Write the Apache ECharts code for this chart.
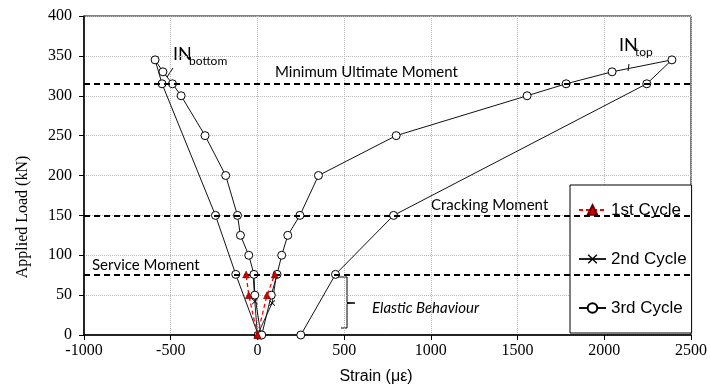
<!DOCTYPE html>
<html><head><meta charset="utf-8">
<script src="https://cdn.jsdelivr.net/npm/echarts@6/dist/echarts.min.js"></script>
<style>html,body{margin:0;padding:0;background:#fff}#c{width:710px;height:389px}</style>
</head><body><div id="c"></div>
<script>
// axis settings
const xMin = -1000, xMax = 2500, xInterval = 500;
const yMin = 0, yMax = 400, yInterval = 50;
const xTitle = 'Strain (\u03bc\u03b5)';
const yTitle = 'Applied Load (kN)';
const legendNames = ['1st Cycle', '2nd Cycle', '3rd Cycle'];

// [strain, load]
const cycle1Bottom = [[0, 0], [-50, 50], [-65, 76]];
const cycle1Top = [[0, 0], [55, 50], [100, 76]];
const cycle2Bottom = [[0, 0], [-15, 42], [-25, 76]];
const cycle2Top = [[0, 0], [85, 40], [110, 76]];
const cycle3Bottom = [[20, 0], [-15, 50], [-20, 76], [-50, 100], [-98, 125], [-115, 150], [-183, 200], [-302, 250], [-440, 300], [-490, 315], [-545, 330], [-590, 345], [-550, 315], [-242, 150], [-125, 76], [5, 0]];
const cycle3Top = [[25, 0], [80, 50], [113, 76], [140, 100], [175, 125], [245, 150], [352, 200], [800, 250], [1555, 300], [1780, 315], [2045, 330], [2390, 345], [2245, 315], [785, 150], [450, 76], [250, 0]];

// reference levels
const momentLevels = [315, 150, 76];
const momentLabels = ['Minimum Ultimate Moment', 'Cracking Moment', 'Service Moment'];

const chart = echarts.init(document.getElementById('c'), null, {renderer: 'canvas'});

const xShape = 'path://M0,1L1,0L5,4L9,0L10,1L6,5L10,9L9,10L5,6L1,10L0,9L4,5Z';
const serifFont = 'Liberation Serif';
const sansFont = 'Liberation Sans';

function s1(data) {
  return {
    name: legendNames[0], type: 'line', data: data, z: 5,
    symbol: 'triangle', symbolSize: 7,
    itemStyle: {color: '#d00000', borderColor: '#600', borderWidth: 0.5},
    lineStyle: {color: '#ff0000', width: 1.3, type: [4, 3]}
  };
}
function s2(data) {
  return {
    name: legendNames[1], type: 'line', data: data, z: 3,
    symbol: xShape, symbolSize: 6,
    itemStyle: {color: '#000'},
    lineStyle: {color: '#222', width: 1}
  };
}
function s3(data) {
  return {
    name: legendNames[2], type: 'line', data: data, z: 4,
    symbol: 'circle', symbolSize: 8,
    itemStyle: {color: '#fff', borderColor: '#000', borderWidth: 1},
    lineStyle: {color: '#111', width: 1}
  };
}

const series = [s2(cycle2Bottom), s2(cycle2Top), s3(cycle3Bottom), s3(cycle3Top), s1(cycle1Bottom), s1(cycle1Top)];
series[0].markLine = {
  silent: true, symbol: ['none', 'none'], animation: false,
  label: {show: false},
  lineStyle: {color: '#000', width: 1.8, type: [6, 4]},
  data: momentLevels.map(v => ({yAxis: v}))
};

chart.setOption({
  animation: false,
  backgroundColor: '#fff',
  grid: {left: 84, right: 18, top: 16, bottom: 54, show: true, borderColor: '#000', borderWidth: 1, backgroundColor: 'transparent'},
  xAxis: {
    type: 'value', min: xMin, max: xMax, interval: xInterval,
    axisLine: {show: true, onZero: false, lineStyle: {color: '#000', width: 1.5}},
    axisTick: {show: true, inside: false, length: 5, lineStyle: {color: '#000'}},
    axisLabel: {color: '#000', fontFamily: serifFont, fontSize: 16, margin: 8, formatter: v => String(v)},
    splitLine: {show: true, lineStyle: {color: '#b8b8b8', type: 'dotted', width: 1}}
  },
  yAxis: {
    type: 'value', min: yMin, max: yMax, interval: yInterval,
    axisLine: {show: true, onZero: false, lineStyle: {color: '#000', width: 1.5}},
    axisTick: {show: true, inside: false, length: 5, lineStyle: {color: '#000'}},
    axisLabel: {color: '#000', fontFamily: serifFont, fontSize: 16, margin: 12, formatter: v => String(v)},
    splitLine: {show: true, lineStyle: {color: '#b8b8b8', type: 'dotted', width: 1}}
  },
  legend: {
    data: legendNames, orient: 'vertical', left: 570, top: 185,
    backgroundColor: '#fff', borderColor: '#000', borderWidth: 1,
    padding: [15, 5, 15, 8], itemGap: 29, itemWidth: 27, itemHeight: 12,
    textStyle: {fontFamily: sansFont, fontSize: 17, color: '#000', lineHeight: 20}
  },
  series: series,
  graphic: [
    {type: 'text', x: 23, y: 217, rotation: Math.PI / 2, style: {text: yTitle, font: '16px "Liberation Serif"', fill: '#000', align: 'center', verticalAlign: 'middle'}},
    {type: 'text', x: 376, y: 377, style: {text: xTitle, font: '16px "Liberation Sans"', fill: '#000', align: 'center', verticalAlign: 'middle'}},
    {type: 'text', x: 275, y: 72, style: {text: momentLabels[0], font: '15px Lato', fill: '#000', align: 'left', verticalAlign: 'middle'}},
    {type: 'text', x: 431, y: 205, style: {text: momentLabels[1], font: '15px Lato', fill: '#000', align: 'left', verticalAlign: 'middle'}},
    {type: 'text', x: 92, y: 265, style: {text: momentLabels[2], font: '15px Lato', fill: '#000', align: 'left', verticalAlign: 'middle'}},
    {type: 'text', x: 372, y: 308, style: {text: 'Elastic Behaviour', font: 'italic 15px Lato', fill: '#000', align: 'left', verticalAlign: 'middle'}},
    {type: 'polyline', shape: {points: [[336, 277], [347, 277], [347, 302.5], [355, 303], [347, 303.5], [347, 328], [341, 328]]}, style: {stroke: '#000', lineWidth: 1, fill: null}},
    {type: 'text', x: 173, y: 63, style: {text: 'IN', font: '18px Lato', fill: '#000', align: 'left', verticalAlign: 'bottom'}},
    {type: 'text', x: 189, y: 67, style: {text: 'bottom', font: '12px Lato', fill: '#000', align: 'left', verticalAlign: 'bottom'}},
    {type: 'line', shape: {x1: 173, y1: 68, x2: 167, y2: 77}, style: {stroke: '#000', lineWidth: 1}},
    {type: 'text', x: 619, y: 54, style: {text: 'IN', font: '18px Lato', fill: '#000', align: 'left', verticalAlign: 'bottom'}},
    {type: 'text', x: 635, y: 58, style: {text: 'top', font: '12px Lato', fill: '#000', align: 'left', verticalAlign: 'bottom'}},
    {type: 'line', shape: {x1: 629, y1: 64, x2: 628, y2: 71}, style: {stroke: '#000', lineWidth: 1}}
  ]
});
</script>
</body></html>
